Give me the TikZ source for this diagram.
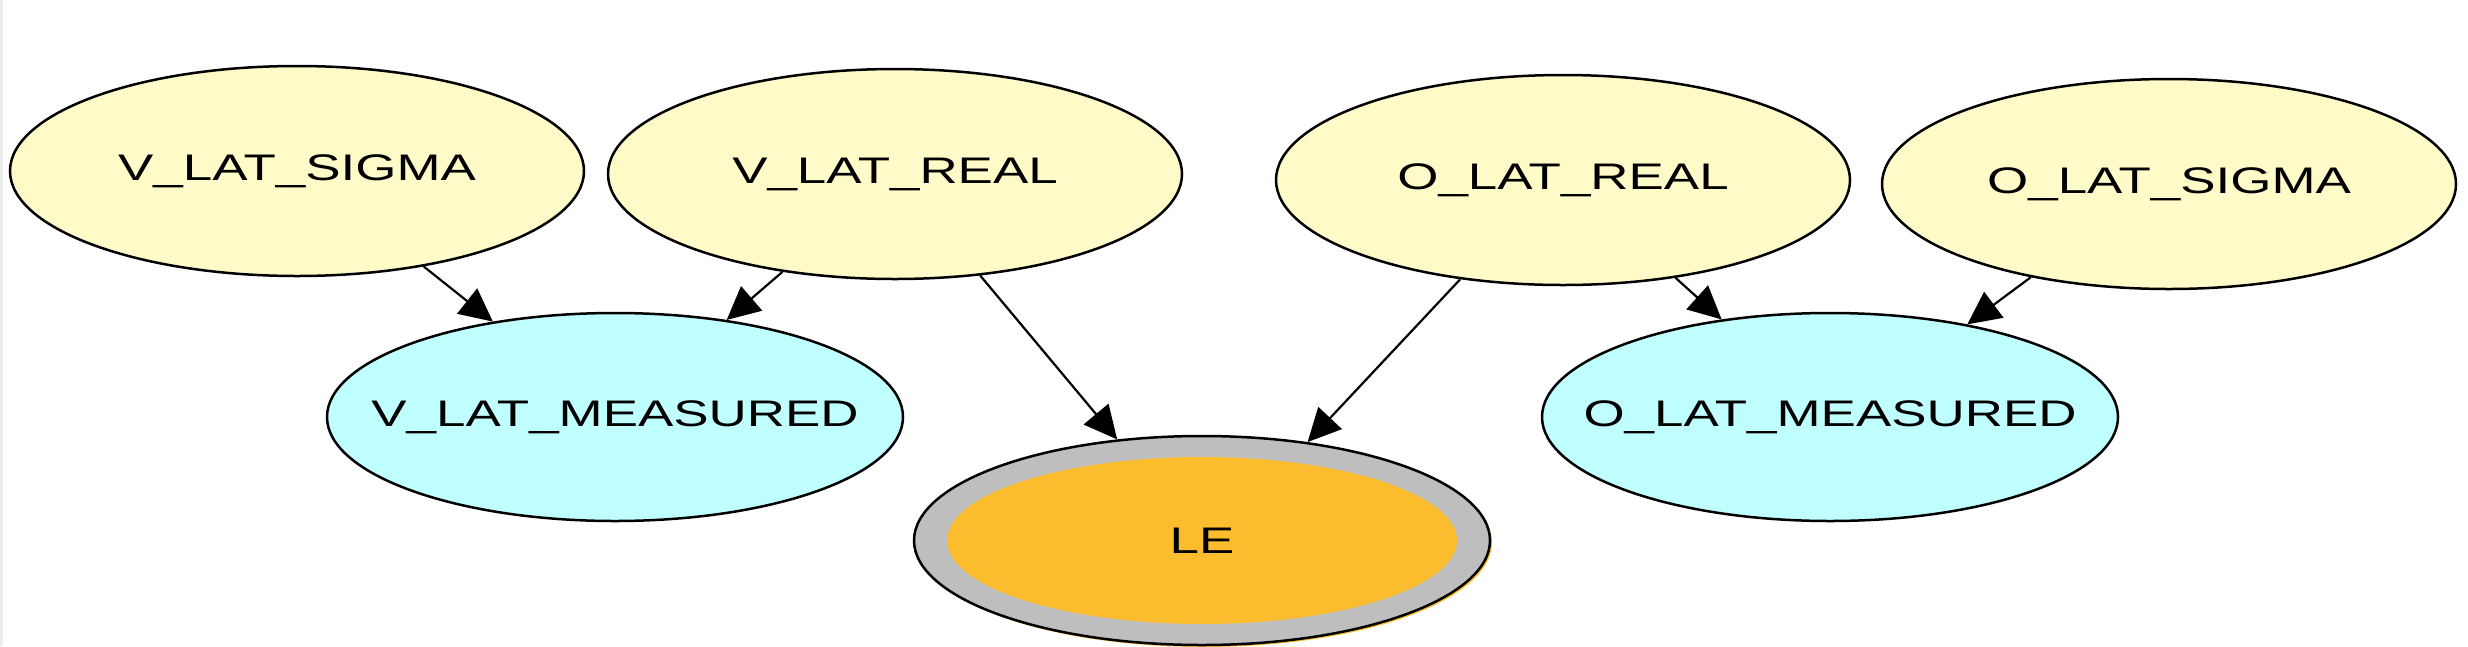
\documentclass[tikz,border=0pt]{standalone}
\usepackage{fontspec}
\setmainfont{Liberation Sans}
\usetikzlibrary{shapes.geometric,arrows.meta}
\definecolor{yellowC}{RGB}{255,251,200}
\definecolor{cyanC}{RGB}{192,255,255}
\definecolor{orangeC}{RGB}{251,189,45}
\definecolor{grayC}{RGB}{190,190,190}
\definecolor{edgeC}{RGB}{236,236,236}
\newcommand{\lbl}[1]{\makebox[0pt]{\scalebox{1.43}[1]{\fontsize{37}{40}\selectfont #1}}}
\begin{document}
\begin{tikzpicture}[x=1pt,y=-1pt,
  nodebase/.style={ellipse, draw=black, line width=2.5pt, inner sep=0pt,
    minimum width=574pt, minimum height=210pt, font=\fontsize{37}{40}\selectfont},
  parent/.style={nodebase, fill=yellowC},
  measured/.style={nodebase, fill=cyanC, minimum width=576pt, minimum height=208pt},
  target/.style={nodebase, fill=grayC, minimum width=576pt, minimum height=209pt,
    preaction={fill=orangeC, transform canvas={xshift=2pt,yshift=-2pt}},
    path picture={\fill[orangeC] (path picture bounding box.center) ellipse [x radius=255pt, y radius=83.5pt];}},
  edge/.style={draw=black, line width=2.2pt, -{Triangle[length=33pt,width=32pt]}}
]
\useasboundingbox (0,0) rectangle (2468,646);
\fill[edgeC] (0,0) rectangle (2.5,646);

\node[parent] (VS) at (297,171) {\lbl{V\_LAT\_SIGMA}};
\node[parent] (VR) at (895,174) {\lbl{V\_LAT\_REAL}};
\node[parent] (OR) at (1563,180) {\lbl{O\_LAT\_REAL}};
\node[parent] (OS) at (2169,184) {\lbl{O\_LAT\_SIGMA}};
\node[measured] (VM) at (615,417) {\lbl{V\_LAT\_MEASURED}};
\node[measured] (OM) at (1830,417) {\lbl{O\_LAT\_MEASURED}};
\node[target] (LE) at (1202,540.5) {\lbl{LE}};

\draw[edge] (VS.-37.7) -- (VM.142.2);
\draw[edge] (VR.221.2) -- (VM.41.4);
\draw[edge] (VR.-50.1) -- (LE.130.9);
\draw[edge] (OR.224.4) -- (LE.43.8);
\draw[edge] (OR.-41.8) -- (OM.138);
\draw[edge] (OS.214.5) -- (OM.34.6);
\end{tikzpicture}
\end{document}
